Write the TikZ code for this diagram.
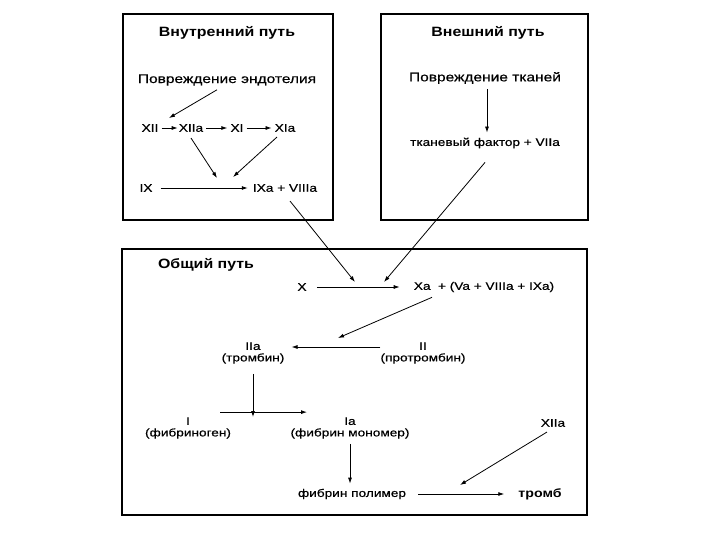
\documentclass[tikz,border=0pt]{standalone}
\usepackage{fontspec}
\setmainfont{Liberation Sans}[FakeStretch=1.18]
\newfontfamily\bodyfont{Liberation Sans}[FakeStretch=1.24,FakeBold=0.6]
\usetikzlibrary{arrows.meta}
\begin{document}
\begin{tikzpicture}[x=1pt,y=-1pt,
  txt/.style={font=\bodyfont\fontsize{11}{11.5}\selectfont, inner sep=0pt, align=center},
  big/.style={font=\bodyfont\fontsize{12.5}{13}\selectfont, inner sep=0pt},
  ttl/.style={font=\fontsize{13.5}{15}\selectfont\bfseries, inner sep=0pt},
  arr/.style={-{Latex[length=6pt,width=4pt]}, line width=0.8pt},
  frame/.style={line width=1.3pt}]
\useasboundingbox (0,0) rectangle (720,540);
% frames
\draw[frame] (123,14) rectangle (333,220);
\draw[frame] (381,14) rectangle (588,220);
\draw[frame] (122,249) rectangle (587,515);
% inner pathway
\node[ttl] (tin) at (227,33) {Внутренний путь};
\node[big] (endo) at (227,80) {Повреждение эндотелия};
\node[txt] (xii) at (150,128) {XII};
\node[txt] (xiia) at (191,128) {XIIa};
\node[txt] (xi) at (237,128) {XI};
\node[txt] (xia) at (285,128) {XIa};
\node[txt] (ix) at (146,188) {IX};
\node[txt] (ixa) at (285,188) {IXa + VIIIa};
\coordinate (m1) at (217,178);
\coordinate (m2) at (233,177);
\draw[arr] ([xshift=-10pt,yshift=-4pt]endo.south) -- ([xshift=19pt,yshift=6pt]xii.north);
\draw[arr,shorten <=3pt,shorten >=1pt] (xii.east) -- (xiia.west);
\draw[arr,shorten <=3pt,shorten >=3pt] (xiia.east) -- (xi.west);
\draw[arr,shorten <=3pt,shorten >=3pt] (xi.east) -- (xia.west);
\draw[arr] ([yshift=-6pt]xiia.south) -- (m1);
\draw[arr] ([xshift=-8pt,yshift=-5pt]xia.south) -- (m2);
\draw[arr,shorten <=8pt,shorten >=5pt] (ix.east) -- (ixa.west);
% extrinsic pathway
\node[ttl] (tout) at (488,33) {Внешний путь};
\node[big] (tis) at (485,78) {Повреждение тканей};
\node[txt] (tf) at (485,143) {тканевый фактор + VIIa};
\draw[arr,shorten <=5pt,shorten >=5pt] ([xshift=2pt]tis.south) -- ([xshift=2pt]tf.north);
% common pathway
\node[ttl] (tcom) at (206,265) {Общий путь};
\node[txt] (x) at (302,287) {X};
\node[txt] (xa) at (484,287) {Xa\,\, + (Va + VIIIa + IXa)};
\coordinate (m3) at (355,282);
\coordinate (m4) at (384,282);
\draw[arr,shorten <=10pt,shorten >=14pt] (x.east) -- (xa.west);
\draw[arr] ([xshift=5pt,yshift=-9pt]ixa.south) -- (m3);
\draw[arr] ([yshift=-14pt]tf.south) -- (m4);
\node[txt] (iia) at (253,353) {IIa\\(тромбин)};
\node[txt] (ii) at (423,353) {II\\(протромбин)};
\coordinate (m5) at (338,338);
\draw[arr] ([xshift=-52pt,yshift=-5pt]xa.south) -- (m5);
\draw[arr] ([yshift=6pt]ii.west) -- ([xshift=7pt,yshift=6pt]iia.east);
\node[txt] (i) at (188,428) {I\\(фибриноген)};
\node[txt] (ia) at (350,428) {Ia\\(фибрин мономер)};
\coordinate (m6) at (253,417);
\draw[arr] ([yshift=-10pt]iia.south) -- (m6);
\draw[arr] ([xshift=32pt,yshift=5pt]i.north) -- ([xshift=-43pt,yshift=5pt]ia.north);
\node[txt] (poly) at (352,494) {фибрин полимер};
\node[txt,font=\fontsize{12}{13}\selectfont\bfseries] (tromb) at (540,494) {тромб};
\node[txt] (xiiac) at (553,423) {XIIa};
\coordinate (m7) at (460,485);
\draw[arr,shorten <=5pt,shorten >=5pt] (ia.south) -- (ia.south |- poly.north);
\draw[arr,shorten <=12pt,shorten >=14pt] (poly.east) -- (tromb.west);
\draw[arr] ([xshift=-6pt,yshift=-5pt]xiiac.south) -- (m7);
\end{tikzpicture}
\end{document}
